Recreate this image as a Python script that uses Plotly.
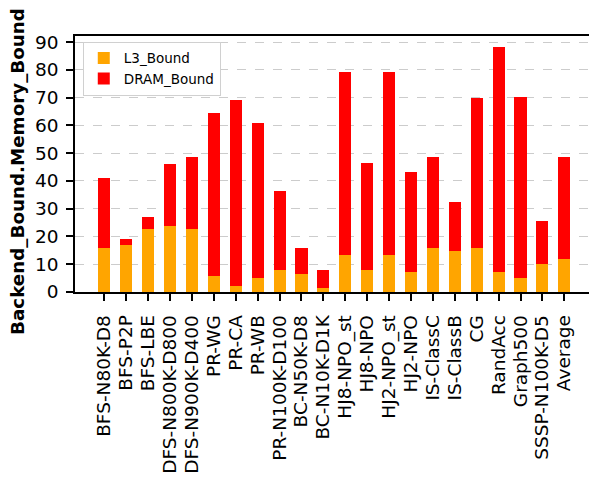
import plotly.graph_objects as go

benchmarks = ["BFS-N80K-D8", "BFS-P2P", "BFS-LBE", "DFS-N800K-D800", "DFS-N900K-D400",
              "PR-WG", "PR-CA", "PR-WB", "PR-N100K-D100", "BC-N50K-D8", "BC-N10K-D1K",
              "HJ8-NPO_st", "HJ8-NPO", "HJ2-NPO_st", "HJ2-NPO", "IS-ClassC", "IS-ClassB",
              "CG", "RandAcc", "Graph500", "SSSP-N100K-D5", "Average"]
l3_bound = [15.9, 17.0, 22.8, 23.9, 22.8, 5.9, 2.3, 4.9, 8.0, 6.5, 1.3,
            13.3, 8.0, 13.3, 7.1, 15.9, 14.9, 15.9, 7.1, 4.9, 10.1, 11.8]
dram_bound = [25.3, 2.1, 4.2, 22.1, 25.8, 58.5, 66.8, 55.8, 28.5, 9.4, 6.7,
              65.8, 38.4, 65.8, 36.2, 32.7, 17.4, 53.9, 81.0, 65.2, 15.3, 36.8]
y_ticks = [0, 10, 20, 30, 40, 50, 60, 70, 80, 90]

font = "DejaVu Sans"

fig = go.Figure()
fig.add_trace(go.Bar(x=benchmarks, y=l3_bound, name="L3_Bound",
                     marker=dict(color="orange", line=dict(width=0)), width=0.55))
fig.add_trace(go.Bar(x=benchmarks, y=dram_bound, name="DRAM_Bound",
                     marker=dict(color="red", line=dict(width=0)), width=0.55))

# page body adds an 8px offset, so the figure is a bit smaller than the window
fig.update_layout(
    barmode="stack",
    width=589, height=479,
    margin=dict(l=67, r=4, t=28, b=195),
    plot_bgcolor="white", paper_bgcolor="white",
    font=dict(family=font, size=18.5, color="black"),
    showlegend=True,
    legend=dict(x=0.015, y=0.978, xanchor="left", yanchor="top",
                traceorder="normal", font=dict(size=13.5),
                itemwidth=30, tracegroupgap=2,
                bgcolor="white", bordercolor="#d0d0d0", borderwidth=1),
)
# y title as annotation: it sits a little below the plot centre in the original
fig.add_annotation(text="<b>Backend_Bound.Memory_Bound</b>", textangle=-90,
                   xref="paper", yref="paper", x=-0.110, y=0.469,
                   xanchor="center", yanchor="middle", showarrow=False,
                   font=dict(size=18.3))
fig.update_xaxes(
    range=[-1.34, 22.31], tickangle=-90,
    tickmode="array", tickvals=benchmarks, ticktext=benchmarks,
    ticks="outside", ticklen=7, tickwidth=1.5, tickcolor="black",
    ticklabelstandoff=7,
    showline=True, linecolor="black", linewidth=1.5, mirror=True,
    showgrid=False, automargin=False,
)
fig.update_yaxes(
    range=[0, 92.2], tickvals=y_ticks,
    ticks="outside", ticklen=7, tickwidth=1.5, tickcolor="black",
    ticklabelstandoff=4,
    showline=True, linecolor="black", linewidth=1.5, mirror=True,
    showgrid=True, gridcolor="#cccccc", griddash="dash", gridwidth=1,
    zeroline=False, automargin=False,
)

fig.write_html("out.html")
